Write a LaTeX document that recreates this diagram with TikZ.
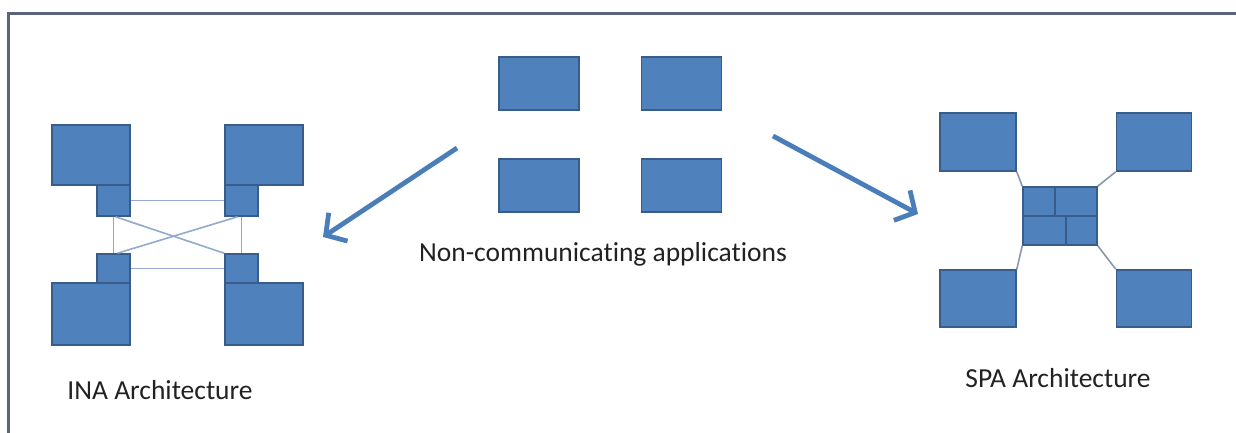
\documentclass[tikz,border=0pt]{standalone}
\usepackage{fontspec}
\setmainfont{Carlito}[Ligatures=NoCommon]
\usetikzlibrary{arrows.meta}
\definecolor{boxfill}{HTML}{4F81BD}
\definecolor{boxline}{HTML}{385D8A}
\definecolor{arrowblue}{HTML}{4A7EBB}
\definecolor{linkblue}{HTML}{93A9D0}
\definecolor{hubgray}{HTML}{8A96AC}
\definecolor{framegray}{HTML}{5A6480}
\definecolor{txt}{HTML}{222222}
\begin{document}
\begin{tikzpicture}[x=1pt,y=-1pt,
  app/.style 2 args={draw=boxline, fill=boxfill, line width=1.6pt,
    inner sep=0pt, minimum width=#1, minimum height=#2},
  link/.style={draw=linkblue, line width=1.6pt},
  spoke/.style={draw=hubgray, line width=1.6pt},
  bigarrow/.style={draw=arrowblue, line width=4.8pt,
    -{Straight Barb[length=15pt, width=34pt]}},
  caption/.style={text=txt, font=\fontsize{27.5}{33}\selectfont,
    anchor=base, inner sep=0pt}]

\useasboundingbox (0,0) rectangle (1236,433);
\fill[white] (0,0) rectangle (1236,433);

% outer frame (open to the right and bottom)
\draw[framegray, line width=3pt] (8,440) -- (8,14) -- (1240,14);

% ---------- non-communicating applications ----------
\node[app={80pt}{53pt}] (a1) at (539,83.5) {};
\node[app={80pt}{53pt}] (a2) at (681.5,83.5) {};
\node[app={80pt}{53pt}] (a3) at (539,185.5) {};
\node[app={80pt}{53pt}] (a4) at (681.5,185.5) {};
\node[caption] (ncap) at (603,261) {Non-communicating applications};

\coordinate (lstart) at (457,148);
\coordinate (lend) at (323,237);
\coordinate (rstart) at (773,136);
\coordinate (rend) at (918,214);
\draw[bigarrow] (lstart) -- (lend);
\draw[bigarrow] (rstart) -- (rend);

% ---------- INA architecture ----------
\node[app={78pt}{60pt}] (btl) at (91,155) {};
\node[app={78pt}{60pt}] (btr) at (264,155) {};
\node[app={78pt}{62pt}] (bbl) at (91,314) {};
\node[app={78pt}{62pt}] (bbr) at (264,314) {};

\node[app={33pt}{31pt}] (stl) at (113.5,200.5) {};
\node[app={33pt}{31pt}] (str) at (241.5,200.5) {};
\node[app={33pt}{29pt}] (sbl) at (113.5,268.5) {};
\node[app={33pt}{29pt}] (sbr) at (241.5,268.5) {};

% point-to-point interfaces between the applications
\draw[link] (stl.east) -- (str.west);
\draw[link] (sbl.east) -- (sbr.west);
\draw[link] (stl.south) -- (sbl.north);
\draw[link] (str.south) -- (sbr.north);
\draw[link] ([xshift=2pt]stl.south) -- (sbr.north west);
\draw[link] ([xshift=-4pt]str.south) -- ([xshift=4pt]sbl.north);

\node[caption] (inacap) at (160,399) {INA Architecture};

% ---------- SPA architecture ----------
\node[app={76pt}{58pt}] (ptl) at (978,142) {};
\node[app={75pt}{58pt}] (ptr) at (1154,142) {};
\node[app={76pt}{57pt}] (pbl) at (978,298.5) {};
\node[app={75pt}{57pt}] (pbr) at (1154,298.5) {};
\node[app={74pt}{58pt}] (hub) at (1060,216) {};

% spokes from each application to the shared platform
\draw[spoke] (ptl.south east) -- (hub.north west);
\draw[spoke] (ptr.south west) -- (hub.north east);
\draw[spoke] (pbl.north east) -- (hub.south west);
\draw[spoke] (pbr.north west) -- (hub.south east);

% brick pattern inside the platform
\draw[boxline, line width=1.6pt] (hub.west) -- (hub.east);
\draw[boxline, line width=1.6pt] ([xshift=-5pt]hub.north) -- ([xshift=-5pt]hub.center);
\draw[boxline, line width=1.6pt] ([xshift=6pt]hub.center) -- ([xshift=6pt]hub.south);

\node[caption] (spacap) at (1058,387) {SPA Architecture};
\end{tikzpicture}
\end{document}
